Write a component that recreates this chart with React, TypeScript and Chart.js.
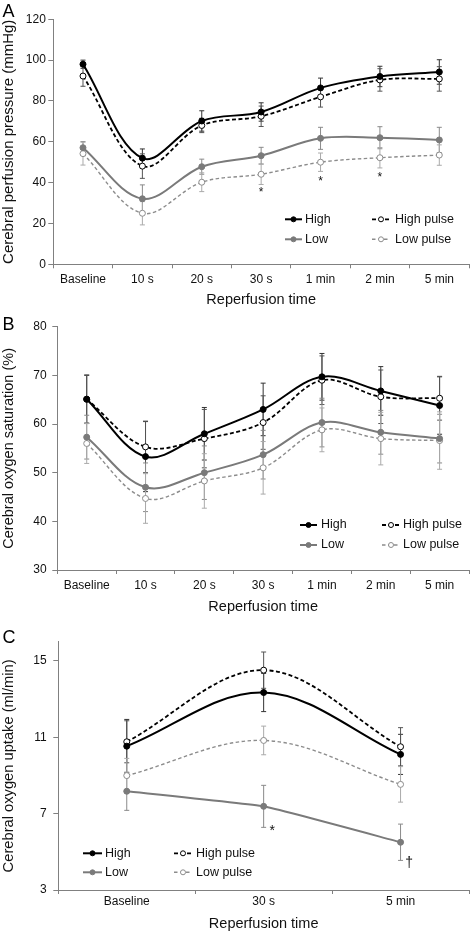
import React, { useEffect, useRef } from "react";
import { Chart, registerables } from "chart.js";

Chart.register(...registerables);

const FONT = "'Liberation Sans', Arial, Helvetica, sans-serif";

// ---------- Data ----------
const categoriesAB = ["Baseline", "10 s", "20 s", "30 s", "1 min", "2 min", "5 min"];
const categoriesC = ["Baseline", "30 s", "5 min"];
const seriesLabels = ["High", "High pulse", "Low", "Low pulse"];

// A: Cerebral perfusion pressure (mmHg)
const cppHigh = [98, 52, 70.2, 74.6, 86.4, 92, 94.2];
const cppHighSD = [2, 4.5, 5, 4.5, 4.8, 5, 6];
const cppHighPulse = [92.2, 48.1, 68, 72.5, 82, 90.3, 90.8];
const cppHighPulseSD = [5, 6, 3.5, 5, 5, 5.5, 6];
const cppLow = [57.1, 32.1, 47.8, 53.2, 61.7, 62, 60.9];
const cppLowSD = [3, 6.8, 3.7, 4.1, 5.4, 5.4, 6.2];
const cppLowPulse = [54.2, 25, 40.2, 44.1, 50, 52.2, 53.5];
const cppLowPulseSD = [5.6, 5.7, 4.6, 5, 4.5, 5, 5];
const cppTicks = [0, 20, 40, 60, 80, 100, 120];
const cppMarkCats = ["30 s", "1 min", "2 min"];
const cppMarkValues = [35.2, 40.6, 42.5];
const cppMarkTexts = ["*", "*", "*"];

// B: Cerebral oxygen saturation (%)
const so2High = [65.1, 53.3, 58, 63, 69.7, 66.8, 63.8];
const so2HighSD = [4.9, 7.2, 5.4, 5.4, 4.8, 5, 5.9];
const so2HighPulse = [65.1, 55.3, 57, 60.3, 69, 65.6, 65.3];
const so2HighPulseSD = [5, 5.3, 6, 5.5, 5, 5.5, 4.5];
const so2Low = [57.3, 47, 50, 53.7, 60.3, 58.3, 57];
const so2LowSD = [4.5, 5, 5.5, 5, 5, 4.5, 5];
const so2LowPulse = [56, 44.7, 48.3, 51, 58.8, 57, 56.6];
const so2LowPulseSD = [4.1, 5.1, 5.6, 5.4, 4.5, 5.4, 5.9];
const so2Ticks = [30, 40, 50, 60, 70, 80];

// C: Cerebral oxygen uptake (ml/min)
const vo2High = [10.53, 13.34, 10.1];
const vo2HighSD = [1.4, 1.0, 1.05];
const vo2HighPulse = [10.76, 14.51, 10.5];
const vo2HighPulseSD = [1.1, 0.95, 1.0];
const vo2Low = [8.17, 7.38, 5.5];
const vo2LowSD = [1.0, 1.1, 0.95];
const vo2LowPulse = [8.99, 10.83, 8.53];
const vo2LowPulseSD = [0.9, 0.75, 0.93];
const vo2Ticks = [3, 7, 11, 15];
const vo2MarkCats = ["30 s", "5 min"];
const vo2MarkValues = [6.1, 4.4];
const vo2MarkTexts = ["*", "\u2020"];

// ---------- Styles ----------
const STYLES = [
  { color: "#000000", fill: "#000000", dash: [], width: 2, err: "#333333" },
  { color: "#000000", fill: "#ffffff", dash: [4, 2.5], width: 1.8, err: "#555555" },
  { color: "#7a7a7a", fill: "#7a7a7a", dash: [], width: 2, err: "#8a8a8a" },
  { color: "#8c8c8c", fill: "#ffffff", dash: [3.5, 2.5], width: 1.4, err: "#aaaaaa" },
];

type PanelCfg = {
  height: number;
  letter: string;
  letterBaseline: number;
  categories: string[];
  series: number[][];
  sds: number[][];
  tensions: number[];
  yMin: number;
  yMax: number;
  yTicks: number[];
  yTitle: string;
  yTitleSize: number;
  area: { left: number; top: number; bottom: number; right: number };
  yTickPad: number;
  xTickPad: number;
  xTitlePad: number;
  legend: { rows: number[]; lineX: number[]; textX: number[] };
  marks?: { cats: string[]; values: number[]; texts: string[]; size: number; dx: number };
};

const errorBarPlugin = {
  id: "errorBars",
  beforeDatasetsDraw(chart: any) {
    const ctx = chart.ctx;
    const y = chart.scales.y;
    chart.data.datasets.forEach((ds: any, i: number) => {
      const meta = chart.getDatasetMeta(i);
      ctx.save();
      ctx.strokeStyle = ds.errColor;
      ctx.lineWidth = 1;
      meta.data.forEach((pt: any, j: number) => {
        const v = ds.data[j];
        const sd = ds.sd[j];
        const top = y.getPixelForValue(v + sd);
        const bot = y.getPixelForValue(v - sd);
        const x = pt.x;
        ctx.beginPath();
        ctx.moveTo(x, top);
        ctx.lineTo(x, bot);
        ctx.moveTo(x - 2.5, top);
        ctx.lineTo(x + 2.5, top);
        ctx.moveTo(x - 2.5, bot);
        ctx.lineTo(x + 2.5, bot);
        ctx.stroke();
      });
      ctx.restore();
    });
  },
};

const decorPlugin = {
  id: "decor",
  afterDraw(chart: any) {
    const cfg: PanelCfg = chart.options.plugins.decor.cfg;
    const ctx = chart.ctx;
    ctx.save();
    // panel letter
    ctx.fillStyle = "#000";
    ctx.font = `18px ${FONT}`;
    ctx.textAlign = "left";
    ctx.textBaseline = "alphabetic";
    ctx.fillText(cfg.letter, 2.5, cfg.letterBaseline);

    // legend
    ctx.font = `12.5px ${FONT}`;
    ctx.textBaseline = "middle";
    seriesLabels.forEach((label, i) => {
      const st = STYLES[i];
      const row = cfg.legend.rows[i % 2 === 0 ? (i === 0 ? 0 : 1) : i === 1 ? 0 : 1];
      const col = i === 0 || i === 2 ? 0 : 1;
      const x0 = cfg.legend.lineX[col * 2];
      const x1 = cfg.legend.lineX[col * 2 + 1];
      ctx.strokeStyle = st.color;
      ctx.lineWidth = st.width;
      ctx.setLineDash(st.dash);
      ctx.beginPath();
      ctx.moveTo(x0, row);
      ctx.lineTo(x1, row);
      ctx.stroke();
      ctx.setLineDash([]);
      ctx.beginPath();
      ctx.arc((x0 + x1) / 2, row, 2.5, 0, Math.PI * 2);
      ctx.fillStyle = st.fill;
      ctx.fill();
      ctx.lineWidth = 1;
      ctx.strokeStyle = st.color;
      ctx.stroke();
      ctx.fillStyle = "#111";
      ctx.fillText(label, cfg.legend.textX[col], row);
    });

    // significance marks
    if (cfg.marks) {
      const xs = chart.scales.x;
      const ys = chart.scales.y;
      ctx.font = `${cfg.marks.size}px ${FONT}`;
      ctx.textAlign = "center";
      ctx.textBaseline = "middle";
      ctx.fillStyle = "#111";
      cfg.marks.cats.forEach((c, k) => {
        const idx = cfg.categories.indexOf(c);
        const px = xs.getPixelForValue(idx) + cfg.marks!.dx;
        const py = ys.getPixelForValue(cfg.marks!.values[k]);
        ctx.fillText(cfg.marks!.texts[k], px, py);
      });
    }
    ctx.restore();
  },
};

function Panel({ cfg }: { cfg: PanelCfg }) {
  const ref = useRef<HTMLCanvasElement | null>(null);
  useEffect(() => {
    if (!ref.current) return;
    const a = cfg.area;
    const chart = new Chart(ref.current, {
      type: "line",
      data: {
        labels: cfg.categories,
        datasets: cfg.series.map((vals, i) => {
          const st = STYLES[i];
          return {
            label: seriesLabels[i],
            data: vals,
            sd: cfg.sds[i],
            errColor: st.err,
            borderColor: st.color,
            borderWidth: st.width,
            borderDash: st.dash,
            tension: cfg.tensions[i],
            fill: false,
            pointRadius: 3,
            pointBorderWidth: 1,
            pointBackgroundColor: st.fill,
            pointBorderColor: st.color,
          } as any;
        }),
      },
      options: {
        animation: false,
        responsive: false,
        maintainAspectRatio: false,
        layout: { padding: { left: 0, top: a.top, right: 474 - a.right, bottom: 0 } },
        plugins: {
          legend: { display: false },
          tooltip: { enabled: false },
          decor: { cfg },
        } as any,
        scales: {
          x: {
            type: "category",
            offset: true,
            grid: {
              offset: true,
              drawOnChartArea: false,
              drawTicks: true,
              tickLength: 4,
              color: "#808080",
            },
            border: { display: true, color: "#808080", width: 1 },
            ticks: {
              color: "#111",
              font: { family: FONT, size: 12 },
              padding: cfg.xTickPad,
              maxRotation: 0,
              autoSkip: false,
            },
            title: {
              display: true,
              text: "Reperfusion time",
              color: "#111",
              font: { family: FONT, size: 14.5 },
              padding: { top: 0, bottom: cfg.xTitlePad },
            },
            afterFit: (scale: any) => {
              scale.height = cfg.height - a.bottom;
            },
          },
          y: {
            type: "linear",
            min: cfg.yMin,
            max: cfg.yMax,
            grid: {
              drawOnChartArea: false,
              drawTicks: true,
              tickLength: 5,
              color: "#808080",
            },
            border: { display: true, color: "#808080", width: 1 },
            ticks: {
              color: "#111",
              font: { family: FONT, size: 12 },
              padding: cfg.yTickPad,
            },
            afterBuildTicks: (scale: any) => {
              scale.ticks = cfg.yTicks.map((v) => ({ value: v }));
            },
            title: {
              display: true,
              text: cfg.yTitle,
              color: "#111",
              font: { family: FONT, size: cfg.yTitleSize },
              padding: { top: 0, bottom: 0 },
            },
            afterFit: (scale: any) => {
              scale.width = a.left;
            },
          },
        },
      } as any,
      plugins: [errorBarPlugin, decorPlugin],
    });
    return () => chart.destroy();
  }, [cfg]);
  return (
    <canvas
      ref={ref}
      width={474}
      height={cfg.height}
      style={{ display: "block", width: 474, height: cfg.height }}
    />
  );
}

const panelA: PanelCfg = {
  height: 310,
  letter: "A",
  letterBaseline: 16.7,
  categories: categoriesAB,
  series: [cppHigh, cppHighPulse, cppLow, cppLowPulse],
  sds: [cppHighSD, cppHighPulseSD, cppLowSD, cppLowPulseSD],
  tensions: [0.35, 0.35, 0.35, 0.35],
  yMin: 0,
  yMax: 120,
  yTicks: cppTicks,
  yTitle: "Cerebral perfusion pressure (mmHg)",
  yTitleSize: 15,
  area: { left: 53.3, top: 19.3, bottom: 264.3, right: 470 },
  yTickPad: 2.5,
  xTickPad: 4.5,
  xTitlePad: 1.3,
  legend: { rows: [219.3, 239.3], lineX: [285, 302, 372, 390], textX: [305, 395] },
  marks: { cats: cppMarkCats, values: cppMarkValues, texts: cppMarkTexts, size: 12, dx: 0 },
};

const panelB: PanelCfg = {
  height: 306,
  letter: "B",
  letterBaseline: 20,
  categories: categoriesAB,
  series: [so2High, so2HighPulse, so2Low, so2LowPulse],
  sds: [so2HighSD, so2HighPulseSD, so2LowSD, so2LowPulseSD],
  tensions: [0.35, 0.35, 0.35, 0.35],
  yMin: 30,
  yMax: 80,
  yTicks: so2Ticks,
  yTitle: "Cerebral oxygen saturation (%)",
  yTitleSize: 14.5,
  area: { left: 57.3, top: 16.7, bottom: 260, right: 472.7 },
  yTickPad: 5.6,
  xTickPad: 4.8,
  xTitlePad: 0.3,
  legend: { rows: [215, 235], lineX: [300, 317, 382, 400], textX: [321, 403] },
};

const panelC: PanelCfg = {
  height: 317,
  letter: "C",
  letterBaseline: 27.3,
  categories: categoriesC,
  series: [vo2High, vo2HighPulse, vo2Low, vo2LowPulse],
  sds: [vo2HighSD, vo2HighPulseSD, vo2LowSD, vo2LowPulseSD],
  tensions: [0.35, 0.35, 0.1, 0.35],
  yMin: 3,
  yMax: 16,
  yTicks: vo2Ticks,
  yTitle: "Cerebral oxygen uptake (ml/min)",
  yTitleSize: 14.7,
  area: { left: 58.3, top: 25.7, bottom: 274, right: 471.7 },
  yTickPad: 6.6,
  xTickPad: 0,
  xTitlePad: 0.3,
  legend: { rows: [237.3, 256.3], lineX: [83, 102, 174, 192], textX: [105, 196] },
  marks: { cats: vo2MarkCats, values: vo2MarkValues, texts: vo2MarkTexts, size: 14, dx: 8.5 },
};

export default function App() {
  return (
    <div
      style={{
        position: "absolute",
        left: 0,
        top: 0,
        width: 474,
        height: 933,
        background: "#fff",
        overflow: "hidden",
      }}
    >
      <Panel cfg={panelA} />
      <Panel cfg={panelB} />
      <Panel cfg={panelC} />
    </div>
  );
}
